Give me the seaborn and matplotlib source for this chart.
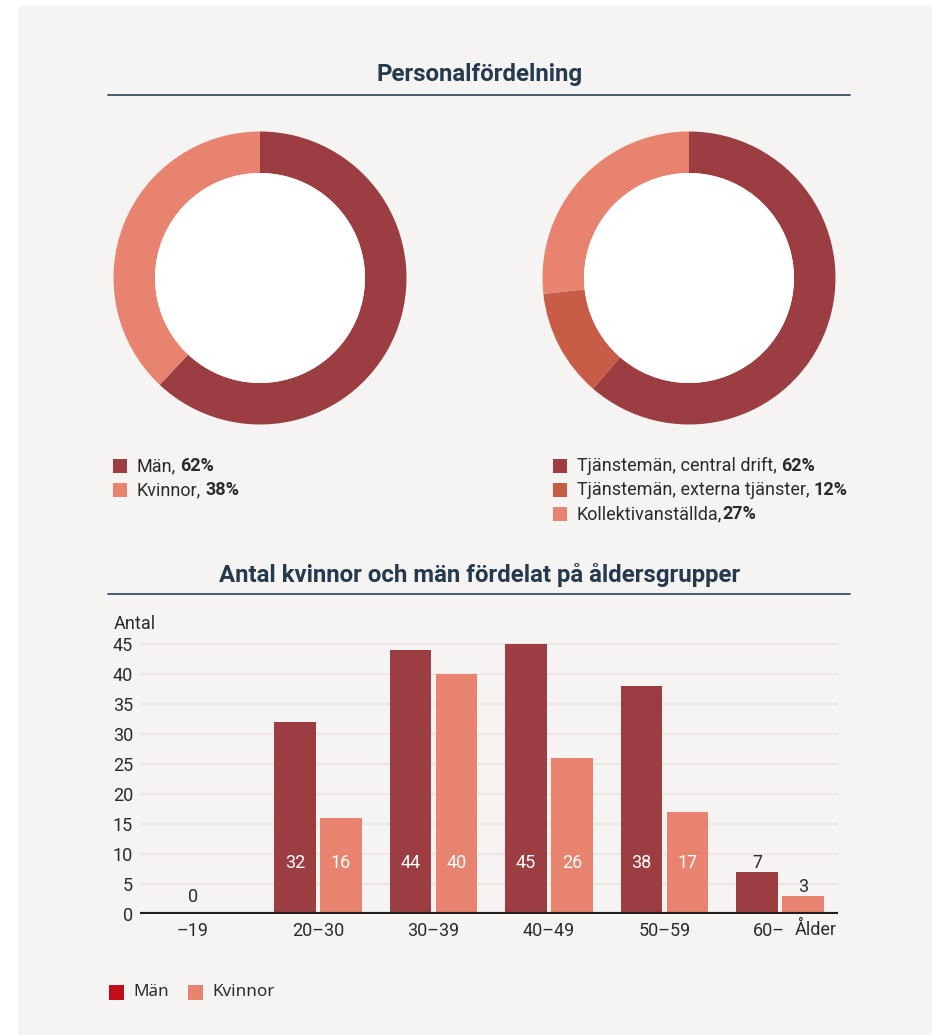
import pandas as pd
import matplotlib.pyplot as plt
import matplotlib.transforms as mtransforms
from matplotlib.patches import Circle, Rectangle, FancyBboxPatch
import seaborn as sns

# --- data ---------------------------------------------------------------
gender_labels = ["Män", "Kvinnor"]
gender_share = [62, 38]

staff_labels = ["Tjänstemän, central drift", "Tjänstemän, externa tjänster", "Kollektivanställda"]
staff_share = [62, 12, 27]

age_groups = ["–19", "20–30", "30–39", "40–49", "50–59", "60–"]
men = [0, 32, 44, 45, 38, 7]
women = [None, 16, 40, 26, 17, 3]

# --- style --------------------------------------------------------------
DARK = "#9c3e41"
MID = "#c95c46"
LIGHT = "#e8836f"
NAVY = "#253a4f"
TXT = "#2b2b2b"
PANEL = "#f6f4f2"
FS = 13

sns.set_theme(style="white")
plt.rcParams["font.family"] = ["Roboto", "DejaVu Sans"]

W, H = 932, 1035
fig = plt.figure(figsize=(W / 100, H / 100), dpi=100)
fig.patch.set_facecolor("white")


def px_axes(left, top, width, height):
    return fig.add_axes([left / W, 1 - (top + height) / H, width / W, height / H])


# background canvas in pixel coordinates
bg = fig.add_axes([0, 0, 1, 1], zorder=0)
bg.set_xlim(0, W)
bg.set_ylim(H, 0)
bg.axis("off")
bg.add_patch(FancyBboxPatch((18, 5), 960, 1080, boxstyle="round,pad=0,rounding_size=8",
                            fc=PANEL, ec="none"))

# titles
def section_title(y, text, line_y):
    bg.text(480, y, text, ha="center", va="center", fontsize=17.3,
            fontweight="bold", color=NAVY)
    bg.plot([108, 850], [line_y, line_y], color="#3a4f63", lw=1.3)

section_title(75, "Personalfördelning", 95)
section_title(575, "Antal kvinnor och män fördelat på åldersgrupper", 594)

# --- donuts -------------------------------------------------------------
R_OUT, R_IN = 146.5, 105.0
def donut(cx, cy, values, colors):
    ax = px_axes(cx - 150, cy - 150, 300, 300)
    ax.set_zorder(1)
    ax.pie(values, colors=colors, startangle=90, counterclock=False, radius=1,
           wedgeprops=dict(width=1 - R_IN / R_OUT, edgecolor="none"))
    ax.add_patch(Circle((0, 0), R_IN / R_OUT, fc="white", ec="none"))
    lim = 150 / R_OUT
    ax.set_xlim(-lim, lim)
    ax.set_ylim(-lim, lim)
    ax.set_aspect("equal")
    ax.axis("off")

donut(260, 278, gender_share, [DARK, LIGHT])
donut(689, 278, staff_share, [DARK, MID, LIGHT])


def legend_rows(x, y0, labels, values, colors, sep=", "):
    for i, (lab, val, col) in enumerate(zip(labels, values, colors)):
        y = y0 + i * 24
        bg.add_patch(Rectangle((x, y - 7), 14, 14, fc=col, ec="none"))
        t = bg.text(x + 24, y, lab + sep.rstrip(), ha="left", va="center",
                    fontsize=FS, color=TXT)
        gap = 4 if sep.endswith(" ") else 0
        bg.annotate(f"{val}%", xy=(1, 0), xycoords=t, xytext=(gap, 0),
                    textcoords="offset pixels", ha="left", va="bottom",
                    fontsize=FS, fontweight="bold", color=TXT)

legend_rows(113, 466, gender_labels, gender_share, [DARK, LIGHT])
legend_rows(553, 466, staff_labels[:2], staff_share[:2], [DARK, MID])
legend_rows(553, 514, staff_labels[2:], staff_share[2:], [LIGHT], sep=",")

# --- bar chart ----------------------------------------------------------
df = pd.DataFrame({
    "Ålder": age_groups * 2,
    "Antal": men + women,
    "Kön": ["Män"] * len(age_groups) + ["Kvinnor"] * len(age_groups),
})

ax = px_axes(140, 638, 698, 276)
ax.set_zorder(1)
ax.patch.set_alpha(0)
sns.barplot(data=df, x="Ålder", y="Antal", hue="Kön", order=age_groups,
            hue_order=["Män", "Kvinnor"], palette={"Män": DARK, "Kvinnor": LIGHT},
            width=0.8, gap=0.1, saturation=1, linewidth=0, legend=False, ax=ax)

ax.set_ylim(0, 46)
ax.set_xlim(-0.541, 5.502)
ax.set_yticks(range(0, 50, 5))
ax.yaxis.grid(True, color="#ebe3df", lw=1.2)
ax.set_axisbelow(True)
for s in ax.spines.values():
    s.set_visible(False)
ax.axhline(0, color="#1e1e1e", lw=3, zorder=5)
ax.set_xlabel("")
ax.set_ylabel("")
ax.tick_params(axis="y", length=0, pad=5, labelsize=FS, labelcolor=TXT)
ax.tick_params(axis="x", length=0, pad=6, labelsize=FS, labelcolor=TXT)

# nudge first/last category labels like the original
for lab, dx in zip(ax.get_xticklabels(), [-10, 0, 0, 0, 0, -11]):
    lab.set_transform(lab.get_transform() +
                      mtransforms.ScaledTranslation(dx / 100, 0, fig.dpi_scale_trans))

# value labels
for container in ax.containers:
    for bar in container:
        h = bar.get_height()
        if pd.isna(h):
            continue
        xc = bar.get_x() + bar.get_width() / 2
        if h >= 10:
            ax.text(xc, 8.5, f"{h:.0f}", ha="center", va="center",
                    fontsize=FS, color="white")
        elif h == 0:
            ax.annotate(f"{h:.0f}", xy=(round(xc), 2.8), xytext=(-9, 0),
                        textcoords="offset pixels", ha="center", va="center",
                        fontsize=FS, color=TXT)
        else:
            ax.text(xc, h + 1.5, f"{h:.0f}", ha="center", va="center",
                    fontsize=FS, color=TXT)

bg.text(114, 624, "Antal", ha="left", va="center", fontsize=FS, color=TXT)
bg.text(837, 930, "Ålder", ha="right", va="center", fontsize=FS, color=TXT)

# bottom legend
for x, lab, col in [(109, "Män", "#c20e1a"), (188, "Kvinnor", LIGHT)]:
    bg.add_patch(Rectangle((x, 985), 15, 15, fc=col, ec="none"))
    bg.text(x + 24, 992, lab, ha="left", va="center", fontsize=12.3,
            color=TXT, family=["Noto Sans", "DejaVu Sans"])

fig.savefig("out.png", dpi=100)
